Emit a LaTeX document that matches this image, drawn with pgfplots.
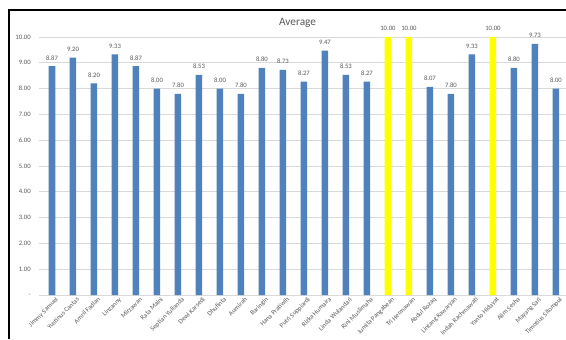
\documentclass[border=0pt]{standalone}
\usepackage{pgfplots}
\pgfplotsset{compat=1.18}
\usepackage{fontspec}
\setmainfont{Carlito}
\definecolor{barblue}{RGB}{79,129,189}
\definecolor{baryel}{RGB}{255,255,0}
\definecolor{gridc}{RGB}{217,217,217}
\definecolor{txtc}{RGB}{89,89,89}
\begin{document}
\begin{tikzpicture}
\path[use as bounding box] (0,0) rectangle (424.5pt,254.25pt);
\fill[white] (0,0) rectangle (424.5pt,254.25pt);
\begin{axis}[
  at={(29.55pt,33pt)}, anchor=south west,
  scale only axis, width=395.25pt, height=193.5pt,
  xmin=-0.6, xmax=24.5, ymin=0, ymax=10,
  ybar, bar width=0.31, bar shift=0pt,
  /pgf/number format/assume math mode=true,
  axis x line*=bottom, axis y line*=left,
  y axis line style={draw=none},
  x axis line style={draw=gridc, line width=0.6pt},
  major tick length=0pt,
  ymajorgrids, grid style={draw=gridc, line width=0.5pt},
  ytick={0,1,2,3,4,5,6,7,8,9,10},
  yticklabels={-,1.00,2.00,3.00,4.00,5.00,6.00,7.00,8.00,9.00,10.00},
  yticklabel style={font=\fontsize{5}{5}\selectfont, text=txtc, xshift=-3pt},
  xtick={0,...,24},
  xticklabels={Jimmy Samuel,Yustinus Cantas,Amril Fadlan,Linzanny,Mirzawan,Rata Maini,Septian Yulianda,Dewi Karsedi,Dhufinta,Aumirah,Baringin,Hana Pratiwih,Putri Suppiardi,Rizka Humaira,Linda Wulandari,Rini Muslimaha,Jumita Pangabean,Tri Hermawan,Abdul Rozaq,Lintang Kawaryan,Indah Rachmawati,Yanto Hidayat,Alim Sesha,Mayang Sari,Timotius Sitompul},
  xticklabel style={font=\fontsize{5}{5}\selectfont, text=txtc, rotate=45, anchor=north east, inner sep=1pt, xshift=2pt, yshift=-1.5pt},
  title={Average},
  title style={font=\fontsize{8.5}{10}\selectfont, text=txtc, at={(0.5,1)}, anchor=base, yshift=2.5pt, xshift=-4pt},
  nodes near coords,
  nodes near coords style={font=\fontsize{5}{5}\selectfont, text=txtc, /pgf/number format/.cd, fixed, fixed zerofill, precision=2, assume math mode=true, /tikz/.cd, yshift=1pt},
  clip=false,
]
\addplot[fill=barblue, draw=none] coordinates {
(0,8.87) (1,9.20) (2,8.20) (3,9.33) (4,8.87) (5,8.00) (6,7.80) (7,8.53) (8,8.00) (9,7.80)
(10,8.80) (11,8.73) (12,8.27) (13,9.47) (14,8.53) (15,8.27)
(18,8.07) (19,7.80) (20,9.33) (22,8.80) (23,9.73) (24,8.00)
};
\addplot[fill=baryel, draw=none] coordinates {
(16,10.00) (17,10.00) (21,10.00)
};
\end{axis}
\draw[line width=1.9pt, black] (6.75pt,0) -- (6.75pt,246.75pt) -- (424.5pt,246.75pt);
\end{tikzpicture}
\end{document}
